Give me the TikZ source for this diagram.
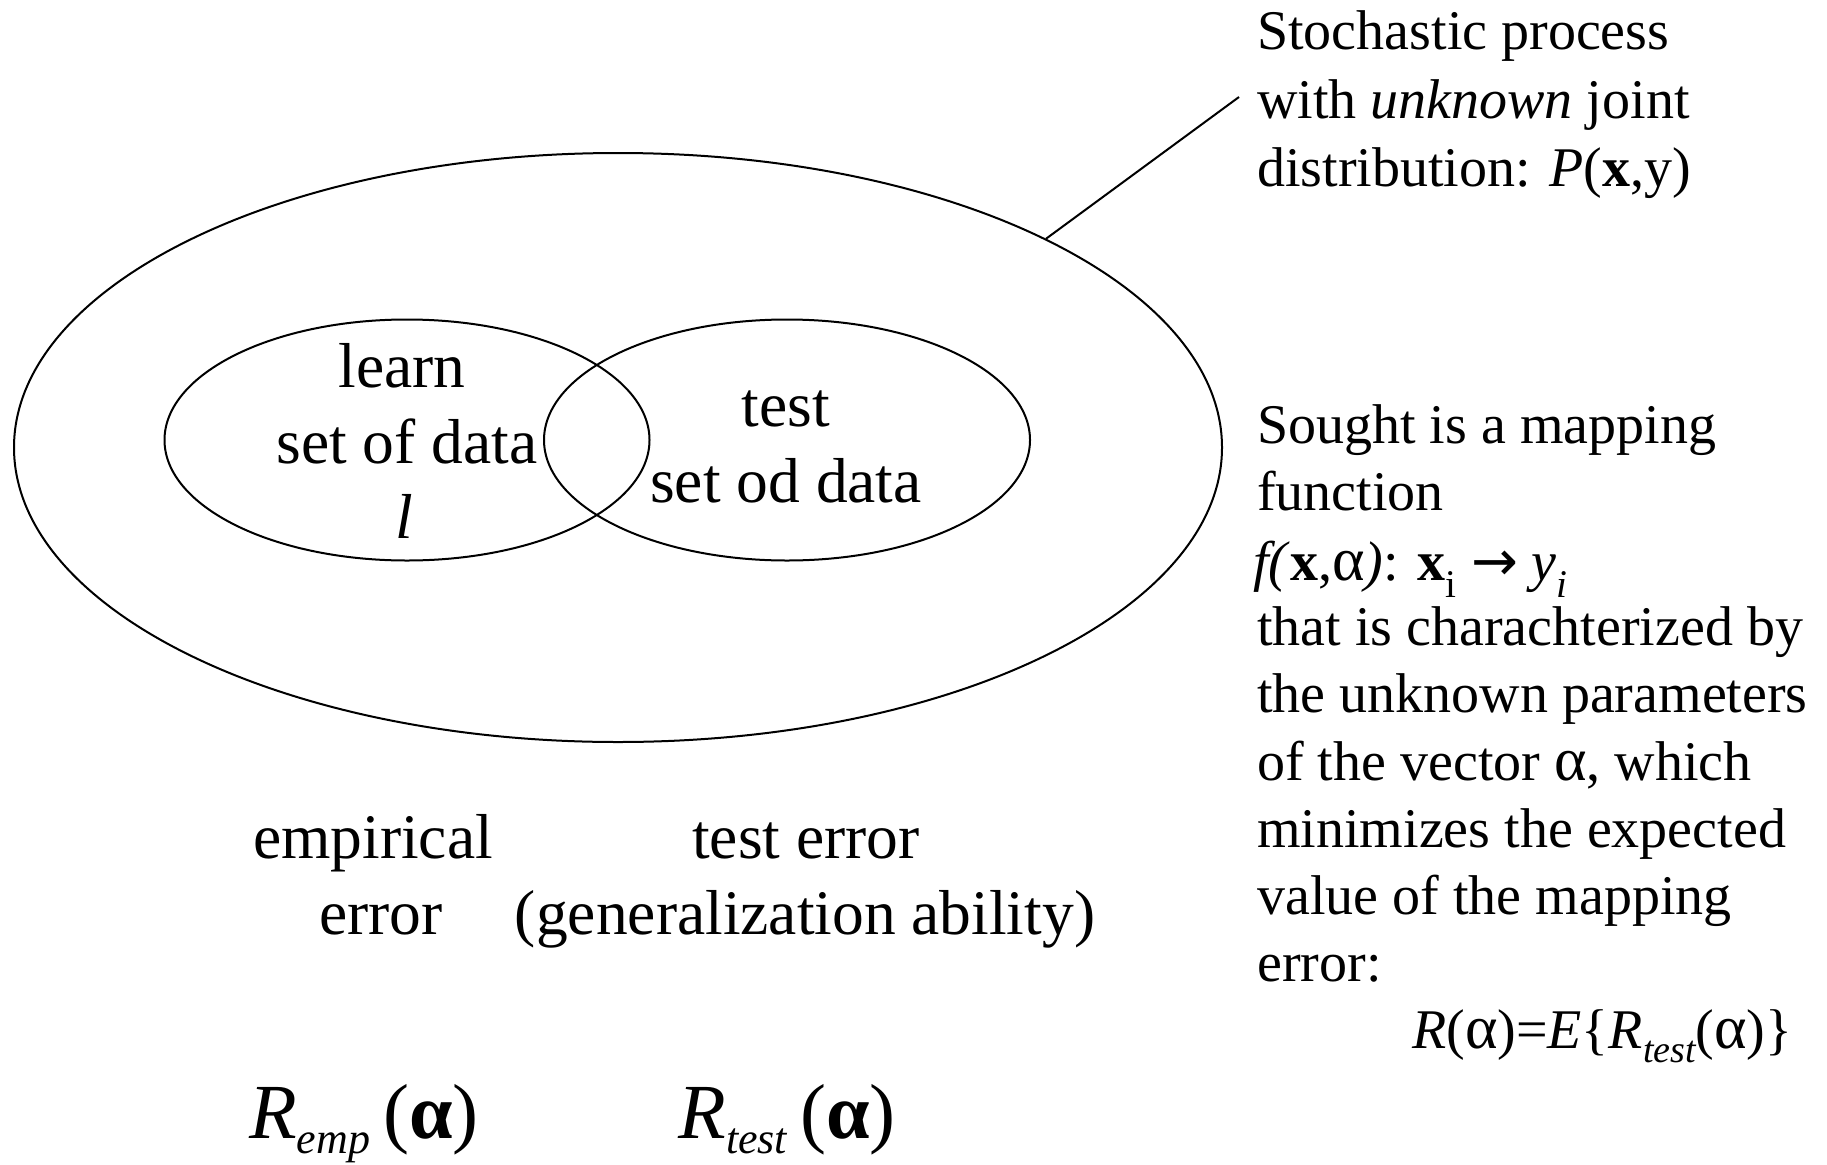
\documentclass[tikz,border=0pt]{standalone}
\usepackage{fontspec}
\setmainfont{Liberation Serif}
\newfontfamily\arrowfont{DejaVu Sans}
\usetikzlibrary{shapes.geometric}
\tikzset{
  oval/.style={draw, line width=2pt, ellipse, inner sep=0pt},
  rtext/.style={anchor=base west, inner sep=0pt, font=\fontsize{56}{67}\selectfont},
  ctext/.style={anchor=base, inner sep=0pt, font=\fontsize{63.5}{76}\selectfont},
  bigtext/.style={anchor=base, inner sep=0pt, font=\fontsize{78}{90}\selectfont},
}
\newcommand{\bigalpha}{{\fontsize{62}{62}\selectfont α}}
\begin{document}
\begin{tikzpicture}[x=1pt,y=-1pt]
\useasboundingbox (0,0) rectangle (1827,1164);
% ellipses
\node[oval, minimum width=1208pt, minimum height=589pt] (outer) at (618,447.5) {};
\node[oval, minimum width=485pt, minimum height=241pt] (learn) at (407,440) {};
\node[oval, minimum width=486pt, minimum height=241pt] (test) at (787,440) {};
% leader line
\coordinate (lead) at (1239,97);
\draw[line width=2pt] (outer.26) -- (lead);
% top right text
\node[rtext] (s1) at (1257,50) {Stochastic process};
\node[rtext] (s2) at (1257,118) {with \textit{unknown} joint};
\node[rtext] (s3) at (1257,186) {distribution: \textit{P}(\textbf{x},y)};
% inner texts
\node[ctext] (l1) at (402,387) {learn};
\node[ctext] (l2) at (407,463) {set of data};
\node[ctext] (l3) at (404,538) {\textit{l}};
\node[ctext] (t1) at (786,426) {test};
\node[ctext] (t2) at (786,502) {set od data};
% bottom labels
\node[ctext] (e1) at (373,858) {empirical};
\node[ctext] (e2) at (381,934) {error};
\node[ctext] (g1) at (806,858) {test error};
\node[ctext] (g2) at (805,934) {(generalization ability)};
\node[bigtext] (remp) at (364,1138) {\textit{R}\raisebox{-0.2em}{\fontsize{44}{44}\selectfont\itshape emp}\,(\textbf{α})};
\node[bigtext] (rtest) at (787,1138) {\textit{R}\raisebox{-0.2em}{\fontsize{44}{44}\selectfont\itshape test}\,(\textbf{α})};
% right text block
\node[rtext] (r1) at (1257,443) {Sought is a mapping};
\node[rtext] (r2) at (1257,510) {function};
\node[rtext] (r3) at (1253,580) {\textit{f(}\textbf{x},\bigalpha\textit{)}: \textbf{x}\textsubscript{i} {\arrowfont →} \textit{y}\textsubscript{\textit{i}}};
\node[rtext] (r4) at (1257,645) {that is charachterized by};
\node[rtext] (r5) at (1257,712) {the unknown parameters};
\node[rtext] (r6) at (1257,780) {of the vector \bigalpha, which};
\node[rtext] (r7) at (1257,847) {minimizes the expected};
\node[rtext] (r8) at (1257,914) {value of the mapping};
\node[rtext] (r9) at (1257,981) {error:};
\node[rtext] (r10) at (1412,1048) {\textit{R}(\bigalpha)=\textit{E}\{\textit{R}\raisebox{-0.25em}{\fontsize{38}{38}\selectfont\itshape test}(\bigalpha)\}};
\end{tikzpicture}
\end{document}
